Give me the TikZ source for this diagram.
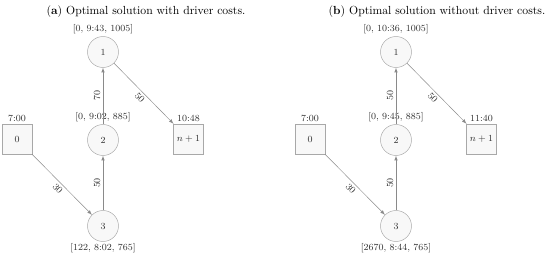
\documentclass[tikz,border=0pt]{standalone}
\usepackage{amsmath}
\usepackage{xcolor}
\usepackage{tikz}
\usetikzlibrary{positioning}
\definecolor{vtxline}{HTML}{A8A8A8}
\definecolor{vtxfill}{HTML}{F8F8F8}
\definecolor{arcline}{HTML}{8A8A8A}
\definecolor{txtgray}{HTML}{303030}

\begin{document}
\begin{tikzpicture}[x=0.03cm,y=-0.03cm,font=\footnotesize,>=latex,text=txtgray,
        cust/.style={circle,draw=vtxline,fill=vtxfill,thin,minimum size=9.3mm,inner sep=0pt},
        depot/.style={rectangle,draw=vtxline,fill=vtxfill,thin,minimum size=9mm,inner sep=0pt},
        arc/.style={->,draw=arcline,thin},
        wt/.style={font=\footnotesize,sloped,inner sep=2pt},
        ttl/.style={font=\normalsize,text=black},
        every label/.style={font=\footnotesize,inner sep=1.5pt}]
        \useasboundingbox (0,0) rectangle (550,256);
        % (a) with driver costs
        \node[ttl] (ta) at (146,12) {(\textbf{a}) Optimal solution with driver costs.};
        \node[cust,label=above:{[0, 9:43, 1005]}] (a1) at (103,52) {1};
        \node[cust,label=above:{[0, 9:02, 885]}] (a2) at (103,140) {2};
        \node[cust,label=below:{[122, 8:02, 765]}] (a3) at (103,226) {3};
        \node[depot,label=above:{7:00}] (a0) at (17,139) {0};
        \node[depot,label=above:{10:48}] (ae) at (188.5,139) {$n+1$};
        \draw[arc] (a0) -- node[wt,below] {30} (a3);
        \draw[arc] (a3) -- node[wt,above] {50} (a2);
        \draw[arc] (a2) -- node[wt,above] {70} (a1);
        \draw[arc] (a1) -- node[wt,below] {50} (ae);
        % (b) without driver costs
        \node[ttl] (tb) at (437,12) {(\textbf{b}) Optimal solution without driver costs.};
        \node[cust,label=above:{[0, 10:36, 1005]}] (b1) at (396,52) {1};
        \node[cust,label=above:{[0, 9:45, 885]}] (b2) at (396,140) {2};
        \node[cust,label=below:{[2670, 8:44, 765]}] (b3) at (396,226) {3};
        \node[depot,label=above:{7:00}] (b0) at (310,139) {0};
        \node[depot,label=above:{11:40}] (be) at (481.5,139) {$n+1$};
        \draw[arc] (b0) -- node[wt,below] {30} (b3);
        \draw[arc] (b3) -- node[wt,above] {50} (b2);
        \draw[arc] (b2) -- node[wt,above] {50} (b1);
        \draw[arc] (b1) -- node[wt,below] {50} (be);
\end{tikzpicture}
\end{document}
